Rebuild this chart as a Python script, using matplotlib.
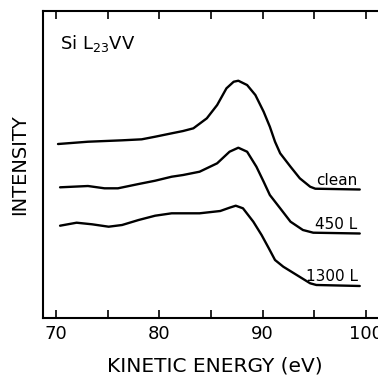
import matplotlib
matplotlib.use("Agg")
import matplotlib.pyplot as plt

# Kinetic energy (eV) and intensities (arbitrary units, offset stacked)
e_clean = [70.2, 73.1, 76.4, 78.3, 79.6, 81.2, 82.3, 83.3, 84.6, 85.6, 86.5,
           87.2, 87.65, 88.5, 89.3, 90.1, 90.7, 91.2, 91.7, 92.7, 93.6, 94.6,
           95.1, 99.4]
i_clean = [174, 176.3, 177.7, 178.7, 181.3, 184.7, 187, 189.7, 199.7, 213,
           229.7, 236.3, 237.3, 233, 223, 206.3, 191.3, 176.3, 164.7, 151.3,
           139.7, 131.3, 129.3, 128.5]

e_450 = [70.4, 73.1, 74.7, 76.0, 78.0, 79.6, 81.2, 82.3, 83.9, 85.6, 86.8,
         87.65, 88.5, 89.4, 90.1, 90.7, 91.7, 92.7, 93.9, 94.9, 99.4]
i_450 = [130.7, 132, 129.7, 129.7, 134, 137.3, 141.3, 143, 146.3, 154.7,
         166.3, 170.3, 166.3, 151.3, 136.3, 123, 109.7, 96.3, 88, 85.3, 84.5]

e_1300 = [70.4, 72.0, 73.5, 75.1, 76.4, 78.0, 79.6, 81.2, 82.3, 83.9, 85.9,
          86.8, 87.4, 88.1, 89.1, 89.9, 90.6, 91.2, 92.0, 93.3, 94.6, 95.2,
          99.4]
i_1300 = [92.3, 95.3, 93.7, 91.3, 93, 98, 102.3, 104.7, 104.7, 104.7, 107,
          110.3, 112.3, 109.7, 96.3, 83, 69.7, 58, 51.3, 43, 34.7, 33, 32]

labels = ["clean", "450 L", "1300 L"]
xticks = [70, 80, 90, 100]
minor_xticks = [75, 85, 95]

fig = plt.figure(figsize=(3.78, 3.81), dpi=100)
ax = fig.add_axes([0.1138, 0.1654, 0.909, 0.8056])

for e, i in [(e_clean, i_clean), (e_450, i_450), (e_1300, i_1300)]:
    ax.plot(e, i, color="black", lw=1.7, solid_capstyle="round",
            solid_joinstyle="round")

ends = [(i_clean[-1], labels[0]), (i_450[-1], labels[1]), (i_1300[-1], labels[2])]
for y, lab in ends:
    ax.text(99.2, y + 1.5, lab, ha="right", va="bottom", fontsize=11,
            color="black")

ax.text(70.4, 275, r"Si L$_{23}$VV", fontsize=13, va="center", ha="left")

ax.set_xlim(68.75, 102)
ax.set_ylim(0, 307)
ax.set_xticks(xticks)
ax.set_xticks(minor_xticks, minor=True)
ax.set_yticks([])
ax.tick_params(axis="x", which="both", direction="in", top=True, bottom=True,
               length=6, width=1.2, labelsize=13, pad=5)
for s in ["left", "bottom", "top"]:
    ax.spines[s].set_linewidth(1.5)
ax.spines["right"].set_visible(False)

ax.set_xlabel("KINETIC ENERGY (eV)", fontsize=14.5, labelpad=10)
ax.set_ylabel("INTENSITY", fontsize=14, labelpad=10)

fig.savefig("out.png", dpi=100)
